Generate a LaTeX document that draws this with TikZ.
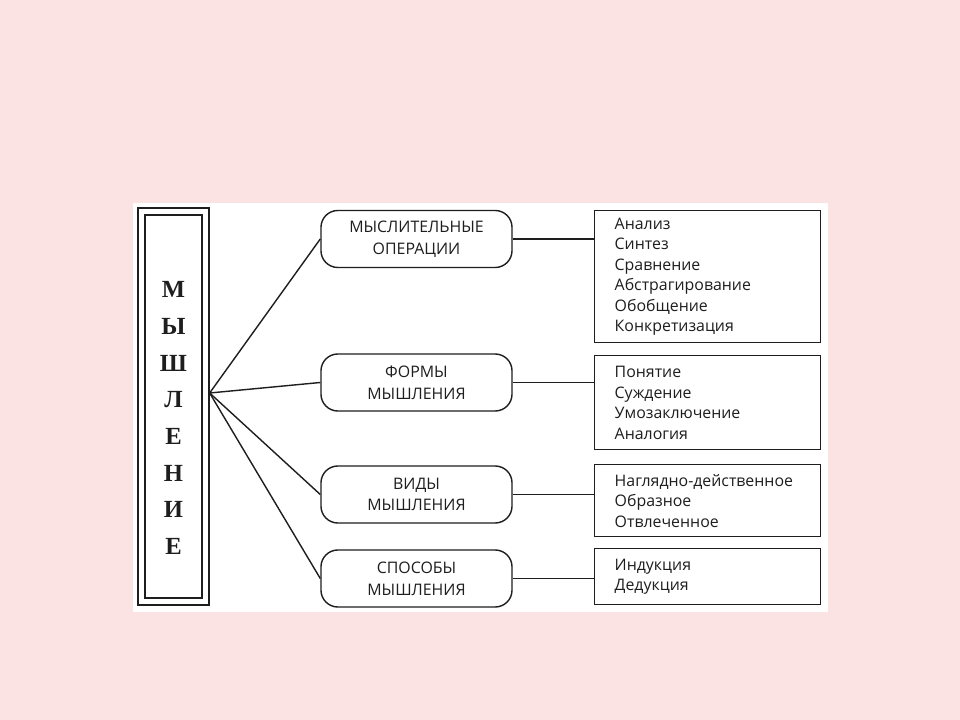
\documentclass[tikz,border=0pt]{standalone}
\usepackage{fontspec}
\setmainfont{Open Sans}
\newfontfamily\letterfont{Liberation Serif}
\usetikzlibrary{positioning,calc}
\definecolor{blush}{HTML}{FBE3E3}
\definecolor{ink}{HTML}{1E1E1E}
\newcommand{\KindX}{416.5}
\newcommand{\ListX}{594}

\begin{document}
\begin{tikzpicture}[x=0.025cm, y=-0.025cm, ink, line width=1pt,
    frame/.style={draw=ink, line width=0.9pt, inner sep=0pt},
    kind/.style={draw=ink, rounded corners=12pt, minimum width=4.775cm, minimum height=1.425cm, align=center, inner sep=2pt, font=\fontsize{11.3}{15.5}\selectfont},
    list/.style={draw=ink, anchor=north west, text width=4.65cm, inner xsep=0.5cm, inner ysep=0pt, align=left, font=\fontsize{11.3}{14.6}\selectfont},
    link/.style={draw=ink, line width=1pt},
  ]
% --- Background --------------------------------------------------------------------
\fill[blush] (0,0) rectangle (960,720);
\fill[white] (133,203) rectangle (828,612);
\useasboundingbox (0,0) rectangle (960,720);

% --- The word, in a double frame ------------------------------------------------------
\node[frame, minimum width=1.775cm, minimum height=9.925cm] (outer) at (173.5,406.5) {};
\node[frame, minimum width=1.425cm, minimum height=9.575cm] (inner) at (173.5,406.5) {};
\node[align=center, font=\letterfont\bfseries\fontsize{17.5}{26.1}\selectfont] (word) at (173.5,418)
  {М\\Ы\\Ш\\Л\\Е\\Н\\И\\Е};
\coordinate (hub) at (outer.east |- 0,393);

% --- Kinds ---------------------------------------------------------------------------
\node[kind] (ops) at (\KindX,239) {МЫСЛИТЕЛЬНЫЕ\\ОПЕРАЦИИ};
\node[kind] (forms) at (\KindX,382.5) {ФОРМЫ\\МЫШЛЕНИЯ};
\node[kind] (types) at (\KindX,494.5) {ВИДЫ\\МЫШЛЕНИЯ};
\node[kind] (ways) at (\KindX,578.5) {СПОСОБЫ\\МЫШЛЕНИЯ};

% --- Lists ---------------------------------------------------------------------------
\node[list, minimum height=3.3cm] (opslist) at (\ListX,210)
  {Анализ\\Синтез\\Сравнение\\Абстрагирование\\Обобщение\\Конкретизация};
\node[list, minimum height=2.35cm] (formslist) at (\ListX,355)
  {Понятие\\Суждение\\Умозаключение\\Аналогия};
\node[list, minimum height=1.8cm] (typeslist) at (\ListX,464)
  {Наглядно-действенное\\Образное\\Отвлеченное};
\node[list, minimum height=1.4cm] (wayslist) at (\ListX,548)
  {Индукция\\Дедукция};

% --- Links ---------------------------------------------------------------------------
\foreach \k in {ops,forms,types,ways} {
  \draw[link] (hub) -- (\k.west);
  \draw[link] (\k.east) -- (\k.east -| \k list.west);
}
\end{tikzpicture}
\end{document}
